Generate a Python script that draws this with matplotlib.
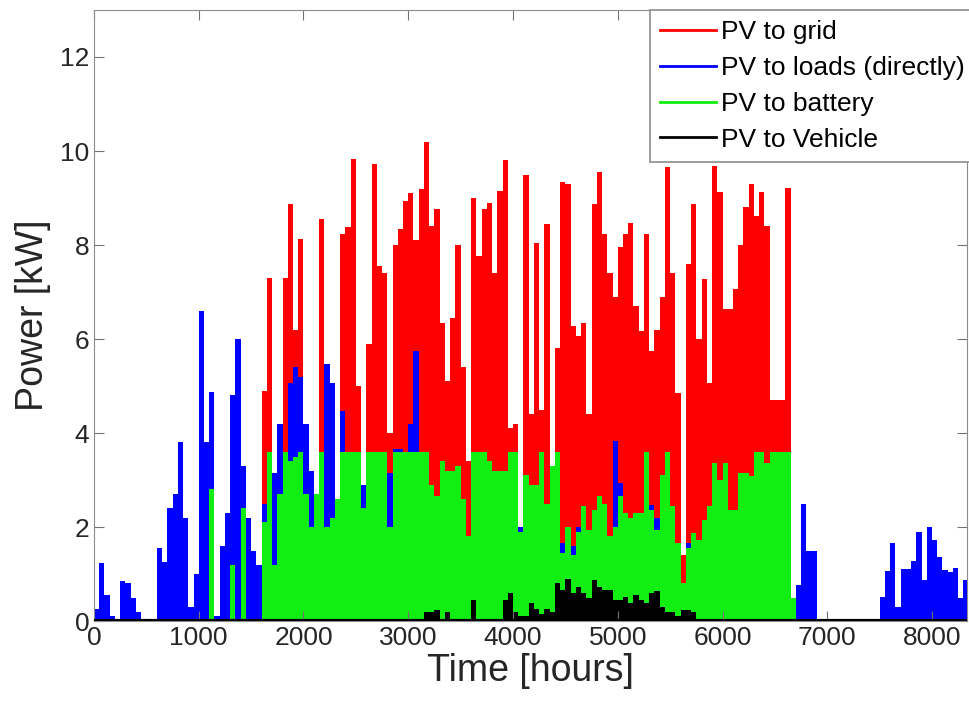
import numpy as np
import matplotlib
matplotlib.use("Agg")
import matplotlib.pyplot as plt

plt.rcParams["font.family"] = ["Liberation Sans", "DejaVu Sans"]

# peak power per 50-hour block, kW
bin_hours = 50
pv_to_grid = [
    0, 0, 0, 0, 0, 0, 0, 0, 0, 0,
    0, 0, 0, 0, 0, 0, 0, 0, 0, 0,
    0, 0, 0, 0, 0, 0, 0, 0, 0, 0,
    0, 0, 4.9, 7.3, 0, 0, 7.3, 8.87, 6.2, 8.12,
    0, 0, 0, 8.56, 0, 0, 0, 8.23, 8.39, 9.83,
    5.0, 0, 5.9, 9.72, 7.55, 7.4, 4.0, 8.0, 8.35, 8.94,
    9.1, 8.1, 9.2, 10.2, 8.4, 8.76, 6.35, 5.1, 6.45, 8.0,
    5.4, 3.4, 9.0, 7.77, 8.76, 8.9, 7.4, 9.15, 9.8, 4.1,
    4.2, 0, 9.5, 4.4, 8.05, 4.5, 8.44, 2.6, 5.8, 9.33,
    9.3, 6.28, 6.06, 6.35, 4.4, 8.87, 9.55, 8.23, 7.4, 6.9,
    7.95, 8.23, 8.47, 6.7, 6.17, 8.23, 5.74, 6.2, 6.9, 9.65,
    7.4, 4.85, 1.4, 7.6, 8.87, 6.0, 7.27, 5.07, 9.69, 9.12,
    6.63, 6.63, 7.06, 8.0, 8.8, 9.3, 8.62, 9.12, 8.4, 4.7,
    4.7, 4.7, 9.22, 0, 0, 0, 0, 0, 0, 0,
    0, 0, 0, 0, 0, 0, 0, 0, 0, 0,
    0, 0, 0, 0, 0, 0, 0, 0, 0, 0,
    0, 0, 0, 0, 0, 0, 0,
]
pv_to_loads = [
    0.25, 1.23, 0.55, 0.1, 0.05, 0.85, 0.8, 0.5, 0.2, 0,
    0, 0, 1.55, 1.25, 2.4, 2.7, 3.8, 2.2, 0.3, 1.0,
    6.6, 3.8, 4.87, 0.1, 1.6, 2.3, 4.8, 6.0, 3.3, 2.2,
    1.5, 1.2, 2.5, 1.5, 3.15, 4.2, 1.6, 5.07, 5.4, 5.2,
    4.2, 3.2, 2.65, 3.0, 5.46, 5.07, 2.5, 4.46, 2.5, 2.0,
    1.4, 2.9, 3.0, 2.7, 3.0, 2.5, 3.15, 3.65, 3.65, 3.0,
    4.2, 5.74, 3.0, 2.5, 1.8, 2.65, 2.0, 2.0, 1.5, 1.2,
    1.5, 1.2, 2.0, 3.1, 2.0, 2.0, 1.8, 1.6, 1.5, 1.5,
    1.7, 2.0, 1.6, 1.5, 1.5, 1.4, 1.6, 1.3, 1.5, 1.65,
    1.5, 1.6, 2.0, 1.5, 1.4, 1.6, 2.44, 2.3, 1.5, 3.82,
    2.94, 2.0, 1.8, 2.0, 1.7, 1.6, 2.47, 2.2, 1.5, 1.4,
    1.5, 1.2, 0.8, 1.65, 1.4, 1.3, 1.4, 1.5, 1.6, 1.5,
    1.4, 1.5, 1.4, 1.6, 1.5, 1.4, 1.5, 1.4, 1.5, 1.4,
    1.3, 1.5, 1.6, 0.45, 0.77, 2.5, 1.48, 1.48, 0, 0,
    0, 0, 0, 0, 0, 0, 0, 0, 0, 0,
    0.52, 1.07, 1.66, 0.3, 1.1, 1.1, 1.27, 1.9, 0.87, 2.0,
    1.73, 1.37, 1.09, 1.05, 1.12, 0.48, 0.87,
]
pv_to_battery = [
    0, 0, 0, 0, 0, 0, 0, 0, 0, 0,
    0, 0, 0, 0, 0, 0, 0, 0, 0, 0,
    0, 0, 2.8, 0, 0, 0, 1.2, 0, 2.4, 0,
    0, 0, 2.1, 3.6, 1.2, 2.7, 3.6, 3.4, 3.5, 3.6,
    2.7, 2.0, 2.7, 3.6, 2.0, 2.2, 2.6, 3.6, 3.6, 3.6,
    3.6, 2.4, 3.6, 3.6, 3.6, 3.6, 2.0, 3.6, 3.6, 3.6,
    3.6, 3.6, 3.6, 3.6, 2.9, 2.65, 3.4, 3.2, 3.2, 3.3,
    2.6, 1.8, 3.6, 3.6, 3.6, 3.4, 3.2, 3.2, 3.2, 3.6,
    3.6, 1.9, 3.1, 2.9, 2.9, 3.6, 2.5, 3.3, 3.6, 1.44,
    2.0, 1.4, 1.9, 2.44, 1.94, 2.37, 2.65, 2.5, 1.8, 2.0,
    2.65, 2.3, 2.2, 2.3, 2.3, 3.6, 2.37, 1.94, 3.1, 3.6,
    2.44, 1.65, 0.8, 1.55, 1.87, 1.73, 2.15, 2.44, 3.36, 3.0,
    3.36, 2.37, 2.37, 3.15, 3.15, 3.08, 3.6, 3.6, 3.36, 3.6,
    3.6, 3.6, 3.6, 0.5, 0, 0, 0, 0, 0, 0,
    0, 0, 0, 0, 0, 0, 0, 0, 0, 0,
    0, 0, 0, 0, 0, 0, 0, 0, 0, 0,
    0, 0, 0, 0, 0, 0, 0,
]
pv_to_vehicle = [
    0, 0, 0, 0, 0, 0, 0, 0, 0, 0,
    0, 0, 0, 0, 0, 0, 0, 0, 0, 0,
    0, 0, 0, 0, 0, 0, 0, 0, 0, 0,
    0, 0, 0, 0, 0, 0, 0, 0, 0, 0,
    0, 0, 0, 0, 0, 0, 0, 0, 0, 0,
    0, 0, 0, 0, 0, 0, 0, 0, 0, 0,
    0, 0, 0, 0.2, 0.2, 0.23, 0, 0.2, 0, 0,
    0, 0, 0.45, 0, 0, 0, 0, 0, 0.45, 0.6,
    0.2, 0.1, 0.1, 0.38, 0.25, 0.15, 0.25, 0.2, 0.8, 0.66,
    0.9, 0.6, 0.73, 0.6, 0.5, 0.87, 0.73, 0.66, 0.66, 0.45,
    0.45, 0.52, 0.38, 0.55, 0.45, 0.38, 0.6, 0.63, 0.3, 0.2,
    0.2, 0.1, 0.23, 0.23, 0.2, 0, 0, 0, 0, 0,
    0, 0, 0, 0, 0, 0, 0, 0, 0, 0,
    0, 0, 0, 0, 0, 0, 0, 0, 0, 0,
    0, 0, 0, 0, 0, 0, 0, 0, 0, 0,
    0, 0, 0, 0, 0, 0, 0, 0, 0, 0,
    0, 0, 0, 0, 0, 0, 0,
]

series = [
    ("PV to grid", pv_to_grid, "#ff0000"),
    ("PV to loads (directly)", pv_to_loads, "#0000ff"),
    ("PV to battery", pv_to_battery, "#11ee11"),
    ("PV to Vehicle", pv_to_vehicle, "#000000"),
]

fig = plt.figure(figsize=(9.7, 7.09), dpi=100)
ax = fig.add_axes([0.0969, 0.1241, 0.9, 0.8618])

for name, vals, col in series:
    v = np.asarray(vals, float)
    edges = np.arange(len(v) + 1) * bin_hours
    ax.fill_between(edges, np.append(v, v[-1]), step="post", color=col, lw=0)
    ax.plot([], [], color=col, lw=2, label=name)

ax.axhline(0, color="k", lw=3, zorder=5)

ax.set_xlim(0, 8334)
ax.set_ylim(0, 13)
ax.set_xticks(range(0, 8001, 1000))
ax.set_yticks(range(0, 13, 2))
ax.tick_params(direction="in", length=7, top=True, right=True,
               labelsize=19, colors="0.45", labelcolor="#262626")
for s in ax.spines.values():
    s.set_color("0.55")
ax.set_xlabel("Time [hours]", fontsize=27, color="#262626", labelpad=2)
ax.set_ylabel("Power [kW]", fontsize=27, color="#262626", labelpad=6)

leg = ax.legend(loc="upper right", bbox_to_anchor=(1.009, 1.0), borderaxespad=0,
                fontsize=19, fancybox=False, edgecolor="0.55", framealpha=1,
                handlelength=2.1, handletextpad=0.2, labelspacing=0.45,
                borderpad=0.38)
leg.get_frame().set_linewidth(1.2)

fig.savefig("out.png", dpi=100)
